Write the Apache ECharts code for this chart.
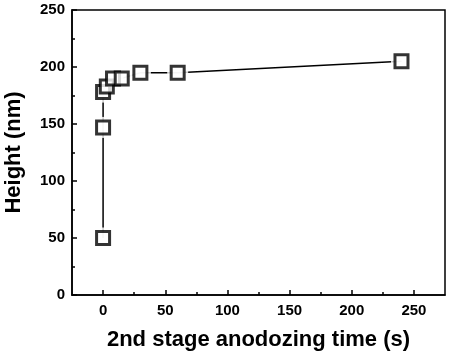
<!DOCTYPE html>
<html>
<head>
<meta charset="utf-8">
<script src="https://cdn.jsdelivr.net/npm/echarts@6/dist/echarts.min.js"></script>
<style>
  html, body { margin: 0; padding: 0; background: #fff; }
  #main { width: 451px; height: 353px; }
</style>
</head>
<body>
<div id="main"></div>
<script>
// 数据：阳极氧化时间 (s) 与高度 (nm)
var times = [0, 0, 0, 3, 8, 15, 30, 60, 240];
var heights = [50, 147, 178, 183, 190, 190, 195, 195, 205];
var xMajorTicks = [0, 50, 100, 150, 200, 250];
var xMinorTicks = [25, 75, 125, 175, 225];

var points = times.map(function (t, i) { return [t, heights[i]]; });

var chart = echarts.init(document.getElementById('main'));

var labelFont = { color: '#000', fontFamily: 'Liberation Sans, Arial, sans-serif', fontWeight: 'bold', fontSize: 15 };
var nameFont = { color: '#000', fontFamily: 'Liberation Sans, Arial, sans-serif', fontWeight: 'bold', fontSize: 22 };

var option = {
    animation: false,
    backgroundColor: '#fff',
    grid: {
        left: 72, right: 6, top: 10, bottom: 58,
        outerBoundsMode: 'none',
        containLabel: false,
        show: true, borderColor: '#000', borderWidth: 1.5
    },
    xAxis: [{
        type: 'value',
        min: -25, max: 275,
        name: '2nd stage anodozing time (s)',
        nameLocation: 'middle',
        nameGap: 34,
        nameTextStyle: nameFont,
        axisLine: { show: true, onZero: false, lineStyle: { color: '#000', width: 1.5 } },
        axisTick: { show: true, inside: true, length: 5, customValues: xMajorTicks, lineStyle: { color: '#000', width: 1.5 } },
        axisLabel: Object.assign({ margin: 8, customValues: xMajorTicks }, labelFont),
        splitLine: { show: false }
    }, {
        type: 'value',
        position: 'bottom',
        min: -25, max: 275,
        axisLine: { show: false, onZero: false },
        axisTick: { show: true, inside: true, length: 3, customValues: xMinorTicks, lineStyle: { color: '#000', width: 1.5 } },
        axisLabel: { show: false },
        splitLine: { show: false }
    }],
    yAxis: {
        type: 'value',
        min: 0, max: 250, interval: 50,
        name: 'Height (nm)',
        nameLocation: 'middle',
        nameGap: 47,
        nameTextStyle: nameFont,
        axisLine: { show: true, onZero: false, lineStyle: { color: '#000', width: 1.5 } },
        axisTick: { show: true, inside: true, length: 5, lineStyle: { color: '#000', width: 1.5 } },
        minorTick: { show: true, splitNumber: 2, length: 3, lineStyle: { color: '#000', width: 1.5 } },
        axisLabel: Object.assign({ margin: 7 }, labelFont),
        splitLine: { show: false }
    },
    series: [{
        type: 'line',
        data: points,
        showSymbol: false,
        lineStyle: { color: '#000', width: 1.5 },
        z: 1
    }, {
        // 白色底块，制造线与标记之间的空隙
        type: 'scatter',
        data: points,
        symbol: 'rect',
        symbolSize: 21,
        itemStyle: { color: '#fff' },
        z: 2
    }, {
        type: 'scatter',
        data: points,
        symbol: 'rect',
        symbolSize: 13,
        itemStyle: { color: '#fff', borderColor: '#000', borderWidth: 3 },
        z: 3
    }]
};

chart.setOption(option);
</script>
</body>
</html>
